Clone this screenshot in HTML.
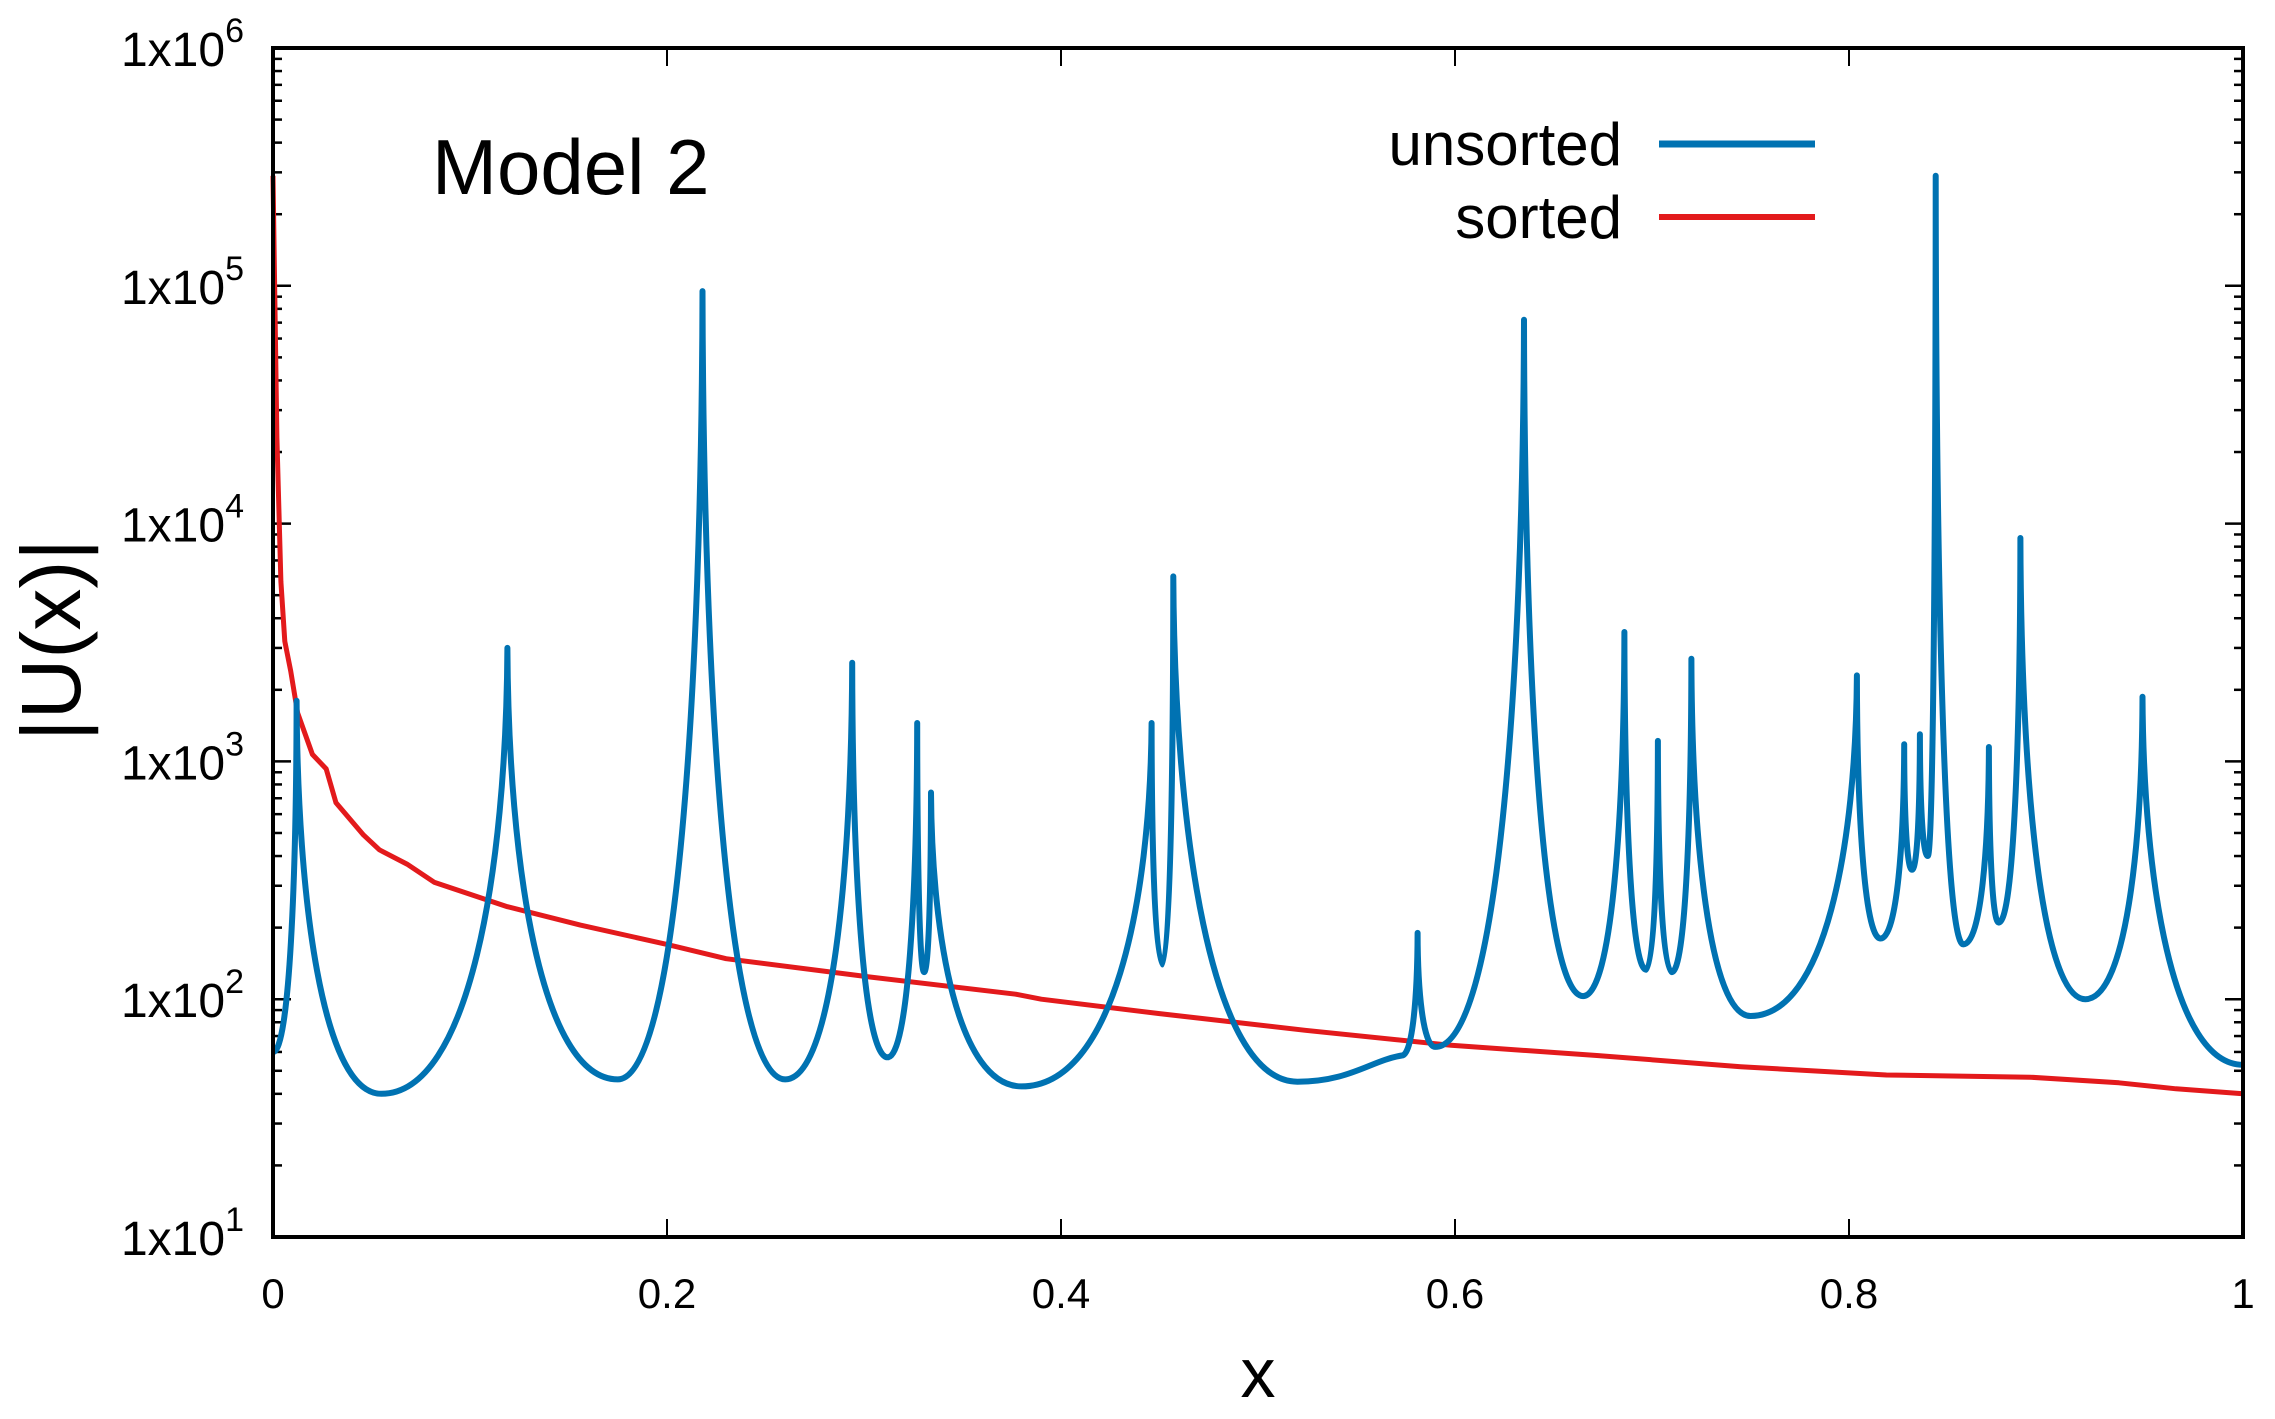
<!DOCTYPE html>
<html><head><meta charset="utf-8"><style>
html,body{margin:0;padding:0;background:#fff;}
svg{display:block;font-family:"Liberation Sans",Arial,sans-serif;}
</style></head><body>
<svg id="chart" width="2275" height="1419" viewBox="0 0 2275 1419" xmlns="http://www.w3.org/2000/svg">
<g id="grid-layer"></g>
<text x="432" y="194" font-size="78" fill="#000">Model 2</text>
<text x="58" y="640" font-size="84" text-anchor="middle" transform="rotate(-90 58 640)" dominant-baseline="middle">|U(x)|</text>
<text x="1258" y="1397" font-size="70" text-anchor="middle">x</text>
<g>
<text x="1622" y="165" font-size="60" text-anchor="end">unsorted</text>
<line x1="1659" y1="144" x2="1815" y2="144" stroke="#0072b2" stroke-width="7"/>
<text x="1622" y="238" font-size="60" text-anchor="end">sorted</text>
<line x1="1659" y1="217" x2="1815" y2="217" stroke="#e31a1c" stroke-width="6"/>
</g>
</svg>
<script>
// ---- data ----
const xTicks = [0, 0.2, 0.4, 0.6, 0.8, 1];
const xTickLabels = ["0", "0.2", "0.4", "0.6", "0.8", "1"];
const yDecades = [1, 2, 3, 4, 5, 6];
// unsorted curve: alternating valley (v) / peak (p) points
const unsortedX = [0, 0.012, 0.055, 0.119, 0.175, 0.218, 0.26, 0.294, 0.312, 0.327, 0.3305, 0.334, 0.38, 0.446, 0.4515, 0.457, 0.52, 0.573, 0.581, 0.59, 0.635, 0.665, 0.686, 0.697, 0.703, 0.71, 0.72, 0.75, 0.804, 0.816, 0.828, 0.832, 0.836, 0.84, 0.844, 0.858, 0.871, 0.876, 0.887, 0.92, 0.949, 1];
const unsortedY = [60, 1800, 40, 3000, 46, 95000, 46, 2600, 57, 1450, 130, 740, 43, 1450, 140, 6000, 45, 58, 190, 63, 72000, 103, 3500, 133, 1220, 130, 2700, 85, 2300, 180, 1180, 350, 1300, 400, 290000, 170, 1150, 210, 8700, 100, 1870, 53];
const unsortedKind = ["v","p","v","p","v","p","v","p","v","p","v","p","v","p","v","p","v","v","p","v","p","v","p","v","p","v","p","v","p","v","p","v","p","v","p","v","p","v","p","v","p","v"];
// sorted curve
const sortedX = [0, 0.002, 0.004, 0.006, 0.009, 0.0125, 0.02, 0.027, 0.032, 0.046, 0.054, 0.068, 0.082, 0.119, 0.156, 0.2, 0.23, 0.303, 0.377, 0.39, 0.45, 0.524, 0.598, 0.672, 0.745, 0.819, 0.892, 0.937, 0.966, 1];
const sortedY = [290000, 23000, 5700, 3200, 2400, 1600, 1070, 930, 670, 490, 425, 370, 310, 245, 205, 170, 148, 124, 105, 100, 87, 74, 64, 58, 52, 48, 47, 44.5, 42, 40];

// ---- axes ----
const L = 273, R = 2243, T = 48, B = 1237;
const xs = v => L + v * (R - L);
const ys = v => B - (Math.log10(v) - 1) / 5 * (B - T);
const NS = "http://www.w3.org/2000/svg";
const svg = document.getElementById('chart');
const g = document.getElementById('grid-layer');
function mk(tag, attrs, parent) {
  const e = document.createElementNS(NS, tag);
  for (const k in attrs) e.setAttribute(k, attrs[k]);
  (parent || g).appendChild(e);
  return e;
}

// x ticks
xTicks.forEach((t, i) => {
  const x = xs(t);
  let e = mk('line', {x1: x, y1: B, x2: x, y2: B - 18, stroke: '#000', 'stroke-width': 2});
  
  
  e = mk('line', {x1: x, y1: T, x2: x, y2: T + 18, stroke: '#000', 'stroke-width': 2});
  
  
  const tx = mk('text', {x: x, y: 1308, 'font-size': 42, 'text-anchor': 'middle'}, svg);
  tx.textContent = xTickLabels[i];
  
  
});
// y ticks
yDecades.forEach((d, i) => {
  const y = ys(Math.pow(10, d));
  let e = mk('line', {x1: L, y1: y, x2: L + 18, y2: y, stroke: '#000', 'stroke-width': 2.5});
  
  
  e = mk('line', {x1: R, y1: y, x2: R - 18, y2: y, stroke: '#000', 'stroke-width': 2.5});
  
  
  const tx = mk('text', {x: 244, y: y + 18, 'font-size': 48, 'text-anchor': 'end'}, svg);
  tx.innerHTML = '1x10<tspan dy="-24" font-size="34">' + d + '</tspan>';
  
  
  if (i < yDecades.length - 1) {
    for (let m = 2; m <= 9; m++) {
      const ym = ys(m * Math.pow(10, d));
      let a = mk('line', {x1: L, y1: ym, x2: L + 9, y2: ym, stroke: '#000', 'stroke-width': 2.5});
      
      
      a = mk('line', {x1: R, y1: ym, x2: R - 9, y2: ym, stroke: '#000', 'stroke-width': 2.5});
      
      
    }
  }
});

// sorted curve
let ds = '';
sortedX.forEach((x, i) => { ds += (i ? 'L' : 'M') + xs(x).toFixed(1) + ' ' + ys(sortedY[i]).toFixed(1); });
const ps = mk('path', {d: ds, fill: 'none', stroke: '#e31a1c', 'stroke-width': 5, 'stroke-linejoin': 'round'});



// unsorted curve (cusp-shaped segments between valley/peak points)
let du = 'M' + xs(unsortedX[0]).toFixed(1) + ' ' + ys(unsortedY[0]).toFixed(1);
for (let i = 1; i < unsortedX.length; i++) {
  const x0 = xs(unsortedX[i-1]), y0 = ys(unsortedY[i-1]);
  const x1 = xs(unsortedX[i]), y1 = ys(unsortedY[i]);
  const dx = x1 - x0;
  let c1x, c1y, c2x, c2y;
  if (unsortedKind[i] === 'p' && unsortedKind[i-1] === 'v') {
    c1x = x0 + 0.7 * dx; c1y = y0;
    c2x = x1 - 0.01 * dx; c2y = y0 + 0.5 * (y1 - y0);
  } else if (unsortedKind[i] === 'v' && unsortedKind[i-1] === 'p') {
    c1x = x0 + 0.01 * dx; c1y = y1 + 0.5 * (y0 - y1);
    c2x = x1 - 0.7 * dx; c2y = y1;
  } else {
    c1x = x0 + 0.5 * dx; c1y = y0;
    c2x = x1 - 0.3 * dx; c2y = y1 + 0.2 * (y0 - y1);
  }
  du += 'C' + [c1x, c1y, c2x, c2y, x1, y1].map(v => v.toFixed(1)).join(' ');
}
const pu = mk('path', {d: du, fill: 'none', stroke: '#0072b2', 'stroke-width': 6, 'stroke-linejoin': 'round'});



// frame
const fr = mk('rect', {x: L, y: T, width: R - L, height: B - T, fill: 'none', stroke: '#000', 'stroke-width': 4});


</script>
</body></html>
